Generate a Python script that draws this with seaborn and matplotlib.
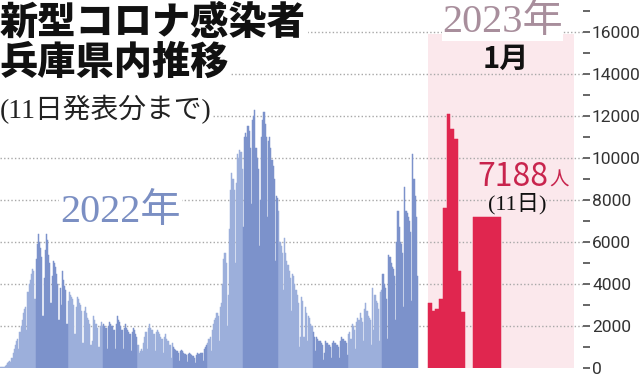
import matplotlib
matplotlib.use("Agg")
import matplotlib.pyplot as plt
import numpy as np
import pandas as pd
import seaborn as sns

# daily new cases in Hyogo, 2022
jan = [40, 50, 30, 60, 80, 150, 250, 300, 350, 280, 500, 700, 900, 1100, 1300, 1400,
       900, 1700, 2000, 2300, 2600, 2800, 2900, 1800, 3600, 4000, 4200, 4500, 4700, 4600, 3300]
feb = [5200, 5900, 6400, 6000, 5700, 5300, 2500, 4300, 5600, 6400, 6100, 5400, 5000, 3100,
       4400, 5100, 5000, 4800, 4500, 4000, 2300, 3800, 3000, 4600, 4200, 3900, 3700, 2100]
mar = [3200, 3600, 3500, 3400, 3300, 3000, 1600, 2900, 3400, 3300, 3100, 3000, 2700, 1200,
       2700, 2900, 2600, 2400, 2300, 2100, 1100, 1300, 2500, 2300, 2100, 2100, 1900, 1000,
       2000, 2200, 2000]
apr = [2100, 2000, 1900, 900, 2000, 2200, 2100, 2000, 2000, 1800, 900, 2100, 2500, 2300,
       2200, 2000, 1800, 900, 1900, 2100, 1900, 1800, 1700, 1600, 800, 1700, 1900, 1800,
       1600, 1500]
may = [1100, 700, 800, 900, 800, 1200, 1500, 1700, 900, 1900, 2100, 1900, 1800, 1800, 1600,
       800, 1700, 1800, 1700, 1600, 1500, 1400, 700, 1500, 1600, 1400, 1300, 1300, 1100, 500, 1200]
jun = [1000, 900, 850, 800, 700, 350, 800, 850, 800, 700, 650, 600, 300, 650, 700, 650, 600,
       550, 500, 250, 600, 700, 650, 650, 700, 700, 350, 900, 1000, 1100]
jul = [1200, 1400, 1500, 800, 1800, 2100, 2300, 2400, 2600, 2500, 1300, 2900, 3100, 4000,
       5200, 5500, 5000, 2000, 3500, 6600, 8500, 9300, 9000, 8500, 5000, 8800, 10200, 10000,
       10400, 10300, 9500]
aug = [6700, 11000, 11200, 11000, 11500, 11300, 10500, 7800, 11800, 12000, 12300, 10500,
       10000, 9500, 5800, 8000, 11000, 11800, 12200, 11600, 11000, 7200, 10800, 11000, 10500,
       9900, 9600, 9000, 5100, 8200, 8100]
sep = [7500, 6000, 5800, 5500, 3700, 6200, 5500, 5100, 4900, 4600, 4300, 2700, 4500, 4400,
       4000, 3700, 3500, 3100, 1000, 1500, 3400, 3200, 1500, 2900, 2600, 1300, 2500, 2400,
       2100, 2000]
oct_ = [1700, 1500, 800, 1500, 1400, 1300, 1300, 1200, 1100, 400, 700, 1300, 1200, 1100,
        1100, 1000, 500, 1200, 1300, 1200, 1100, 1100, 1000, 500, 1300, 1500, 1400, 1300,
        1300, 1200, 600]
nov = [1600, 1700, 1400, 2100, 2000, 1800, 900, 2200, 2400, 2300, 2600, 2400, 2200, 1300,
       2800, 3100, 2700, 2500, 2400, 2300, 1100, 3800, 1800, 3500, 3200, 3100, 2800, 1300,
       3600, 3700]
dec = [4500, 4000, 3800, 3300, 1400, 5400, 5300, 5000, 4800, 4700, 4400, 2300, 6000, 7500,
       6700, 6000, 5900, 5500, 2900, 8600, 7500, 7400, 7200, 7000, 6500, 3200, 10200, 9000,
       8200, 7200, 4400]
months_2022 = [jan, feb, mar, apr, may, jun, jul, aug, sep, oct_, nov, dec]

# January 2023, days 1-10, and the highlighted latest day (11th)
jan_2023 = [3100, 2700, 2800, 3300, 7600, 12100, 11400, 10900, 4600, 2650]
latest_value = 7188

y_ticks = list(range(0, 17001, 1000))

LIGHT = "#9cafdb"
DARK = "#7c92cb"
RED = "#e0264f"
PINK = "#fbe8ec"

rows = []
day = 0
for m, vals in enumerate(months_2022):
    for v in vals:
        rows.append({"day": day, "cases": v, "shade": "light" if m % 2 == 0 else "dark"})
        day += 1
df22 = pd.DataFrame(rows)

# pixel layout helpers (chart is 640x377, 2022 spans 418 px)
PX_PER_DAY = 418 / 365


def xpos(pix):
    return pix / PX_PER_DAY - 0.5


step23 = 3.7 / PX_PER_DAY
df23 = pd.DataFrame({"x": [xpos(428) + step23 * (i + 0.5) for i in range(len(jan_2023))],
                     "cases": jan_2023})

sns.set_style("white")
plt.rcParams["font.family"] = ["Noto Sans CJK JP", "DejaVu Sans"]

fig = plt.figure(figsize=(6.4, 3.77), dpi=100)
ax = fig.add_axes([0, 9 / 377, 583 / 640, 368 / 377])

ax.axvspan(xpos(428), xpos(574), ymax=(368 - 34) / 368, color=PINK, lw=0, zorder=0)
for v in range(2000, 16001, 2000):
    ax.axhline(v, color="#a8a8a8", lw=1, ls=(0, (1, 1.6)), zorder=0.5)

sns.barplot(data=df22, x="day", y="cases", hue="shade", palette={"light": LIGHT, "dark": DARK},
            native_scale=True, width=1, dodge=False, errorbar=None, saturation=1,
            linewidth=0, legend=False, orient="x", ax=ax, zorder=2)
sns.barplot(data=df23, x="x", y="cases", color=RED, native_scale=True, width=1,
            errorbar=None, saturation=1, linewidth=0, orient="x", ax=ax, zorder=2)
ax.bar((xpos(473) + xpos(501)) / 2, latest_value, width=xpos(501) - xpos(473),
       color=RED, lw=0, zorder=2)
# close the hairline seams between neighbouring bars
for p in ax.patches:
    if p.get_zorder() == 2:
        p.set_edgecolor(p.get_facecolor())
        p.set_linewidth(0.35)

ax.set_xlim(-0.5, xpos(583))
ax.set_ylim(0, 368 * 2000 / 42)
sns.despine(ax=ax, left=True, bottom=True, right=True, top=True)
ax.set_xticks([])
ax.set_xlabel("")
ax.set_ylabel("")
ax.yaxis.tick_right()
ax.set_yticks(y_ticks)
ax.set_yticklabels([str(t) if t % 2000 == 0 and t <= 16000 else "" for t in y_ticks])
ax.tick_params(axis="y", direction="out", length=5, width=1.4, color="#666666",
               pad=1.5, labelsize=12.5, labelcolor="#333333", right=True, left=False)
for lbl in ax.get_yticklabels():
    lbl.set_family("Roboto")


def ftext(px, py, s, **kw):
    return fig.text(px / 640, 1 - py / 377, s, **kw)


white_box = dict(facecolor="white", edgecolor="none", pad=1)
pink_box = dict(facecolor=PINK, edgecolor="none", pad=0)
serif = ["Liberation Serif", "Noto Sans CJK JP"]
ftext(0, 4, "新型コロナ感染者", fontsize=27.5, fontweight="heavy", va="top", color="#111111",
      bbox=white_box)
ftext(0, 44, "兵庫県内推移", fontsize=27.5, fontweight="heavy", va="top", color="#111111",
      bbox=white_box)
ftext(0, 118, "(11日発表分まで)", fontsize=20, va="baseline", color="#222222",
      family=serif, bbox=white_box)
ftext(60, 222, "2022年", fontsize=29, color="#7b8fc3", va="baseline",
      family=serif, bbox=white_box)
ftext(442, 32, "2023年", fontsize=29, color="#a88e9c", va="baseline",
      family=serif, bbox=dict(facecolor="white", edgecolor="none", pad=0))
ftext(506, 68, "1月", fontsize=21, fontweight="bold", color="#111111", va="baseline",
      ha="center")
ftext(477, 186, "7188", fontsize=23, color="#c8244d", va="baseline", bbox=pink_box)
ftext(549, 186, "人", fontsize=14, color="#c8244d", va="baseline")
ftext(517, 209, "(11日)", fontsize=16, color="#111111", va="baseline", ha="center",
      family=serif, bbox=pink_box)

fig.savefig("out.png", dpi=100)
